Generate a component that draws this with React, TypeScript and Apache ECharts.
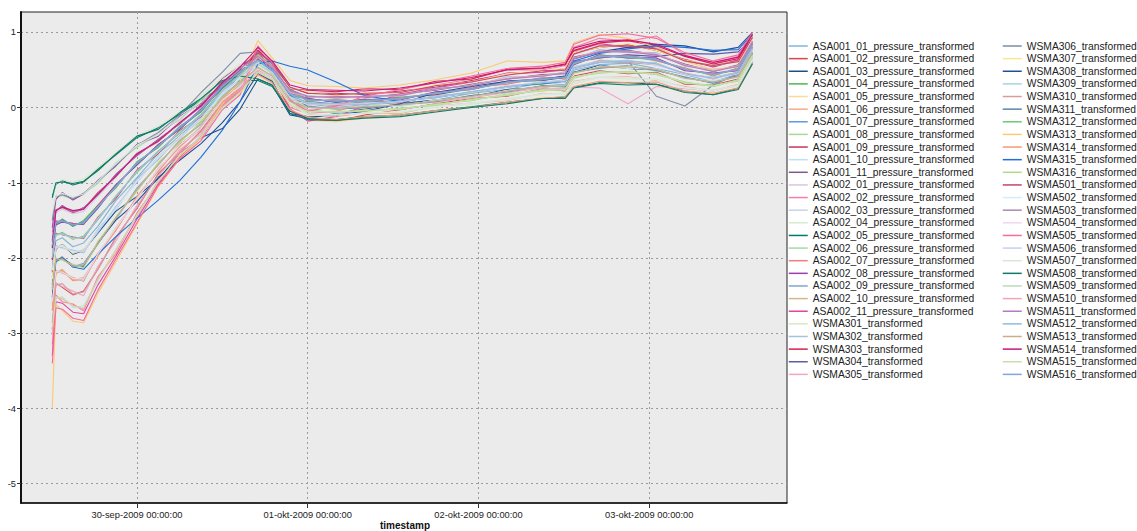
import React, { useEffect, useRef } from "react";
import * as echarts from "echarts";

// hours since 29-sep-2009 00:00:00
const times = [12.1, 12.6, 13.5, 15, 16.5, 18.5, 21, 24, 27, 30, 33, 36, 38.5, 41, 43, 45.5, 48, 52, 56, 61, 66, 71, 76, 81, 84.2, 85.4, 89, 93, 97, 101, 105, 108.5, 110.5];

const xTickValues = [24, 48, 72, 96];
const xTickLabels = ["30-sep-2009 00:00:00", "01-okt-2009 00:00:00", "02-okt-2009 00:00:00", "03-okt-2009 00:00:00"];
const yTickValues = [-5, -4, -3, -2, -1, 0, 1];
const xAxisTitle = "timestamp";

const seriesNames = [
  "ASA001_01_pressure_transformed", "ASA001_02_pressure_transformed", "ASA001_03_pressure_transformed",
  "ASA001_04_pressure_transformed", "ASA001_05_pressure_transformed", "ASA001_06_pressure_transformed",
  "ASA001_07_pressure_transformed", "ASA001_08_pressure_transformed", "ASA001_09_pressure_transformed",
  "ASA001_10_pressure_transformed", "ASA001_11_pressure_transformed", "ASA002_01_pressure_transformed",
  "ASA002_02_pressure_transformed", "ASA002_03_pressure_transformed", "ASA002_04_pressure_transformed",
  "ASA002_05_pressure_transformed", "ASA002_06_pressure_transformed", "ASA002_07_pressure_transformed",
  "ASA002_08_pressure_transformed", "ASA002_09_pressure_transformed", "ASA002_10_pressure_transformed",
  "ASA002_11_pressure_transformed", "WSMA301_transformed", "WSMA302_transformed", "WSMA303_transformed",
  "WSMA304_transformed", "WSMA305_transformed",
  "WSMA306_transformed", "WSMA307_transformed", "WSMA308_transformed", "WSMA309_transformed",
  "WSMA310_transformed", "WSMA311_transformed", "WSMA312_transformed", "WSMA313_transformed",
  "WSMA314_transformed", "WSMA315_transformed", "WSMA316_transformed", "WSMA501_transformed",
  "WSMA502_transformed", "WSMA503_transformed", "WSMA504_transformed", "WSMA505_transformed",
  "WSMA506_transformed", "WSMA507_transformed", "WSMA508_transformed", "WSMA509_transformed",
  "WSMA510_transformed", "WSMA511_transformed", "WSMA512_transformed", "WSMA513_transformed",
  "WSMA514_transformed", "WSMA515_transformed", "WSMA516_transformed",
];

const seriesColors = [
  "#7fb6d9", "#d9454d", "#1a4f8c", "#4db84d", "#fdd89b", "#f7a98b", "#5c9be0", "#a9d98c", "#c7355b",
  "#bfe0f7", "#7a5c8c", "#d9c6e0", "#f77fa6", "#c6d4e8", "#d6edd0", "#007a6b", "#a6d9a6", "#f08080",
  "#9c3fa6", "#7fa6cc", "#d9b38c", "#e0479e", "#d9e8c6", "#a6c1e0", "#d91e4d", "#5c5ca6", "#f0a6c8",
  "#7d8ea6", "#fde68a", "#1f4f99", "#a6d4e8", "#d99aa0", "#5c85a6", "#70c870", "#fdc870", "#f59a72",
  "#1f6fd9", "#b3d98c", "#c4456e", "#d6ecfa", "#a68cb3", "#f0d6ef", "#f76a9a", "#c2d2ef", "#d6e8d6",
  "#0f7a6a", "#b8dbb8", "#f2a6b0", "#b57cc4", "#8fbce0", "#c9ad8c", "#c8177a", "#c8e0a6", "#7fa6e0",
];

const asa001_01 = [-2.17,-1.77,-1.73,-1.85,-1.80,-1.58,-1.24,-0.93,-0.61,-0.38,-0.11,0.19,0.43,0.57,0.47,0.12,0.05,0.00,0.04,0.06,0.10,0.19,0.24,0.33,0.30,0.50,0.57,0.59,0.52,0.44,0.34,0.45,0.78];
const asa001_02 = [-2.95,-2.33,-2.39,-2.49,-2.44,-2.15,-1.73,-1.34,-0.88,-0.60,-0.31,0.06,0.27,0.72,0.44,-0.04,-0.16,-0.18,-0.10,-0.03,0.05,0.12,0.15,0.25,0.22,0.42,0.49,0.45,0.47,0.31,0.30,0.38,0.71];
const asa001_03 = [-2.36,-1.88,-1.82,-1.95,-1.90,-1.67,-1.38,-1.18,-0.95,-0.62,-0.40,-0.28,-0.02,0.38,0.30,-0.10,-0.14,-0.08,-0.02,0.05,0.10,0.14,0.24,0.27,0.30,0.47,0.56,0.52,0.50,0.40,0.33,0.42,0.73];
const asa001_04 = [-1.83,-1.55,-1.48,-1.58,-1.50,-1.30,-1.07,-0.72,-0.53,-0.25,-0.06,0.30,0.47,0.65,0.50,0.17,0.06,0.03,0.07,0.07,0.15,0.19,0.29,0.31,0.37,0.52,0.62,0.60,0.59,0.44,0.40,0.47,0.80];
const asa001_05 = [-3.02,-2.50,-2.55,-2.62,-2.68,-2.27,-1.93,-1.41,-1.00,-0.62,-0.40,0.02,0.19,0.42,0.32,-0.05,-0.17,-0.19,-0.14,-0.10,-0.06,0.01,0.05,0.14,0.12,0.28,0.33,0.34,0.30,0.20,0.19,0.24,0.61];
const asa001_06 = [-2.59,-2.21,-2.16,-2.30,-2.27,-1.98,-1.60,-1.22,-0.81,-0.53,-0.25,0.08,0.31,0.48,0.37,0.04,-0.09,-0.12,-0.07,-0.08,0.02,0.06,0.09,0.19,0.17,0.35,0.40,0.41,0.36,0.28,0.22,0.31,0.62];
const asa001_07 = [-2.16,-1.84,-1.86,-1.90,-1.93,-1.62,-1.36,-0.95,-0.69,-0.37,-0.18,0.21,0.40,0.62,0.49,0.19,0.11,0.08,0.10,0.13,0.18,0.26,0.32,0.39,0.41,0.58,0.69,0.66,0.65,0.50,0.45,0.50,0.84];
const asa001_08 = [-2.42,-2.04,-1.99,-2.12,-2.08,-1.82,-1.46,-1.11,-0.73,-0.47,-0.19,0.12,0.36,0.53,0.41,0.09,-0.04,-0.07,-0.03,-0.03,0.05,0.09,0.18,0.22,0.25,0.39,0.48,0.46,0.46,0.32,0.30,0.35,0.70];
const asa001_09 = [-2.03,-1.51,-1.52,-1.54,-1.55,-1.30,-1.03,-0.76,-0.49,-0.29,-0.02,0.29,0.50,0.76,0.58,0.27,0.19,0.19,0.17,0.22,0.27,0.36,0.45,0.47,0.52,0.73,0.80,0.84,0.76,0.64,0.54,0.63,0.94];
const asa001_10 = [-2.82,-2.54,-2.51,-2.66,-2.63,-2.31,-1.89,-1.45,-0.96,-0.66,-0.37,-0.02,0.22,0.47,0.38,0.06,0.02,-0.02,0.02,0.01,0.10,0.14,0.21,0.29,0.28,0.45,0.55,0.52,0.52,0.38,0.36,0.40,0.73];
const asa001_11 = [-1.76,-1.38,-1.30,-1.40,-1.33,-1.17,-0.89,-0.64,-0.42,-0.22,0.04,0.31,0.54,0.70,0.53,0.24,0.14,0.15,0.13,0.18,0.23,0.31,0.38,0.44,0.45,0.67,0.74,0.76,0.70,0.58,0.48,0.57,0.87];
const asa002_01 = [-1.70,-1.40,-1.35,-1.41,-1.38,-1.18,-0.93,-0.60,-0.46,-0.18,0.00,0.34,0.52,0.68,0.55,0.21,0.09,0.10,0.08,0.13,0.18,0.26,0.32,0.39,0.41,0.58,0.69,0.67,0.65,0.50,0.45,0.52,0.82];
const asa002_02 = [-3.15,-2.49,-2.58,-2.61,-2.70,-2.25,-1.95,-1.40,-1.01,-0.60,-0.41,0.03,0.24,0.80,0.52,0.00,-0.08,-0.05,0.05,0.15,0.30,0.38,0.50,0.50,0.56,0.80,0.92,0.88,0.95,0.70,0.58,0.68,0.98];
const asa002_03 = [-2.52,-2.00,-2.03,-2.08,-2.12,-1.78,-1.50,-1.07,-0.77,-0.43,-0.23,0.16,0.33,0.57,0.45,0.15,0.03,0.06,0.04,0.09,0.13,0.21,0.27,0.34,0.33,0.55,0.60,0.63,0.56,0.46,0.38,0.47,0.77];
const asa002_04 = [-1.99,-1.71,-1.65,-1.76,-1.70,-1.50,-1.17,-0.87,-0.57,-0.35,-0.08,0.21,0.45,0.56,0.47,0.12,0.01,-0.03,0.03,0.02,0.10,0.13,0.23,0.27,0.30,0.44,0.55,0.53,0.50,0.40,0.33,0.42,0.72];
const asa002_05 = [-1.18,-1.02,-0.97,-1.03,-0.99,-0.82,-0.63,-0.40,-0.27,-0.09,0.10,0.28,0.36,0.36,0.28,-0.05,-0.14,-0.16,-0.12,-0.10,-0.04,0.01,0.07,0.12,0.14,0.27,0.33,0.33,0.31,0.22,0.17,0.26,0.60];
const asa002_06 = [-1.50,-1.18,-1.17,-1.22,-1.14,-1.01,-0.74,-0.53,-0.34,-0.16,0.10,0.35,0.55,0.62,0.48,0.13,-0.03,-0.07,-0.05,-0.01,0.03,0.11,0.16,0.24,0.23,0.41,0.46,0.48,0.44,0.34,0.28,0.37,0.68];
const asa002_07 = [-2.69,-2.17,-2.20,-2.26,-2.31,-1.94,-1.64,-1.18,-0.85,-0.49,-0.29,0.11,0.30,0.66,0.48,0.10,0.08,0.11,0.07,0.14,0.17,0.27,0.31,0.40,0.38,0.60,0.66,0.70,0.62,0.53,0.42,0.53,0.81];
const asa002_08 = [-1.60,-1.22,-1.13,-1.23,-1.15,-0.97,-0.78,-0.49,-0.38,-0.12,0.06,0.39,0.55,0.70,0.55,0.20,0.12,0.07,0.11,0.10,0.21,0.24,0.35,0.36,0.42,0.57,0.70,0.66,0.66,0.49,0.46,0.49,0.85];
const asa002_09 = [-2.55,-2.05,-1.98,-2.12,-2.07,-1.81,-1.49,-1.07,-0.76,-0.44,-0.22,0.15,0.35,0.50,0.43,0.07,0.02,-0.02,0.00,0.04,0.07,0.16,0.20,0.29,0.27,0.47,0.52,0.56,0.49,0.41,0.32,0.43,0.72];
const asa002_10 = [-2.62,-2.20,-2.15,-2.29,-2.26,-1.97,-1.63,-1.19,-0.84,-0.50,-0.26,0.10,0.28,0.54,0.41,0.09,0.06,0.02,0.06,0.07,0.16,0.19,0.29,0.32,0.36,0.52,0.63,0.60,0.59,0.44,0.40,0.45,0.79];
const asa002_11 = [-3.30,-2.58,-2.60,-2.72,-2.74,-2.36,-1.98,-1.48,-1.02,-0.66,-0.40,0.01,0.22,0.75,0.48,-0.02,-0.18,-0.12,0.02,0.18,0.26,0.34,0.46,0.47,0.50,0.75,0.85,0.80,0.80,0.62,0.55,0.63,0.95];
const wsma301 = [-1.23,-1.01,-0.96,-0.99,-0.95,-0.80,-0.60,-0.37,-0.25,-0.06,0.16,0.40,0.58,0.52,0.40,0.05,-0.08,-0.11,-0.06,-0.07,0.02,0.04,0.12,0.17,0.20,0.31,0.40,0.38,0.37,0.26,0.24,0.28,0.62];
const wsma302 = [-2.26,-1.88,-1.82,-1.94,-1.89,-1.66,-1.32,-0.99,-0.65,-0.41,-0.14,0.17,0.41,0.61,0.51,0.20,0.16,0.12,0.15,0.15,0.26,0.28,0.41,0.41,0.48,0.64,0.77,0.73,0.73,0.55,0.51,0.54,0.89];
const wsma303 = [-2.19,-1.67,-1.69,-1.72,-1.74,-1.46,-1.21,-0.83,-0.61,-0.31,-0.12,0.25,0.44,0.76,0.58,0.25,0.23,0.21,0.25,0.24,0.35,0.38,0.51,0.52,0.58,0.76,0.86,0.89,0.82,0.68,0.58,0.65,0.96];
const wsma304 = [-1.86,-1.56,-1.52,-1.55,-1.55,-1.34,-1.03,-0.76,-0.50,-0.29,-0.02,0.26,0.46,0.64,0.51,0.16,0.12,0.07,0.10,0.13,0.17,0.25,0.35,0.36,0.40,0.61,0.66,0.70,0.68,0.72,0.71,0.74,0.92];
const wsma305 = [-2.85,-2.33,-2.38,-2.44,-2.50,-2.11,-1.78,-1.30,-0.92,-0.56,-0.35,0.06,0.25,0.50,0.40,0.06,-0.03,0.01,-0.01,0.05,0.07,0.13,0.20,0.26,0.25,0.27,0.26,0.05,0.28,0.25,0.22,0.30,0.66];
const wsma306 = [-1.50,-1.18,-1.16,-1.21,-1.14,-0.98,-0.77,-0.50,-0.33,-0.10,0.20,0.47,0.72,0.74,0.58,0.25,0.08,0.05,0.07,0.09,0.13,0.21,0.27,0.34,0.36,0.52,0.60,0.62,0.15,0.02,0.30,0.45,0.80];
const wsma307 = [-2.28,-1.86,-1.83,-1.93,-1.90,-1.63,-1.35,-0.96,-0.68,-0.38,-0.17,0.20,0.38,0.70,0.54,0.26,0.21,0.16,0.19,0.20,0.30,0.34,0.45,0.49,0.52,0.73,0.80,0.85,0.76,0.63,0.56,0.61,0.92];
const wsma308 = [-2.52,-2.02,-2.00,-2.10,-2.11,-1.80,-1.50,-1.25,-0.93,-0.70,-0.48,-0.20,0.08,0.45,0.35,-0.08,-0.12,-0.10,-0.05,0.05,0.20,0.28,0.35,0.38,0.42,0.65,0.74,0.80,0.84,0.82,0.74,0.80,1.00];
const wsma309 = [-2.58,-2.18,-2.19,-2.27,-2.30,-1.95,-1.61,-1.21,-0.82,-0.52,-0.26,0.08,0.30,0.58,0.45,0.12,0.04,0.05,0.03,0.09,0.13,0.21,0.28,0.34,0.34,0.54,0.62,0.61,0.59,0.45,0.40,0.47,0.77];
const wsma310 = [-2.86,-2.36,-2.34,-2.48,-2.45,-2.15,-1.74,-1.33,-0.89,-0.59,-0.32,0.05,0.23,0.53,0.42,0.08,0.06,0.03,0.06,0.07,0.15,0.20,0.27,0.33,0.35,0.52,0.62,0.60,0.57,0.46,0.38,0.47,0.78];
const wsma311 = [-1.84,-1.54,-1.49,-1.57,-1.52,-1.33,-1.04,-0.75,-0.50,-0.28,-0.05,0.27,0.49,0.63,0.49,0.17,0.01,-0.02,0.00,0.04,0.08,0.16,0.21,0.29,0.28,0.47,0.53,0.55,0.50,0.40,0.33,0.42,0.73];
const wsma312 = [-1.99,-1.69,-1.66,-1.75,-1.71,-1.49,-1.18,-0.86,-0.58,-0.34,-0.09,0.24,0.45,0.70,0.55,0.22,0.09,0.10,0.08,0.13,0.19,0.24,0.34,0.37,0.41,0.58,0.69,0.67,0.63,0.52,0.43,0.52,0.88];
const wsma313 = [-4.00,-2.62,-2.70,-2.84,-2.86,-2.47,-2.06,-1.55,-1.05,-0.68,-0.40,0.05,0.35,0.89,0.66,0.36,0.29,0.28,0.26,0.30,0.37,0.46,0.62,0.60,0.62,0.86,0.97,0.92,0.80,0.62,0.50,0.55,0.95];
const wsma314 = [-2.70,-2.20,-2.17,-2.30,-2.28,-1.97,-1.63,-1.19,-0.84,-0.52,-0.28,0.07,0.26,0.44,0.33,-0.03,-0.13,-0.16,-0.12,-0.10,-0.04,0.00,0.07,0.12,0.15,0.28,0.35,0.33,0.34,0.22,0.19,0.26,0.58];
const wsma315 = [-2.40,-2.05,-2.00,-2.12,-2.15,-1.95,-1.72,-1.47,-1.23,-0.97,-0.66,-0.30,0.08,0.58,0.62,0.55,0.50,0.34,0.16,0.08,0.14,0.20,0.28,0.32,0.35,0.62,0.72,0.78,0.82,0.80,0.76,0.77,0.98];
const wsma316 = [-2.40,-2.00,-2.03,-2.09,-2.13,-1.78,-1.47,-1.10,-0.74,-0.46,-0.20,0.15,0.33,0.51,0.43,0.06,-0.06,-0.05,-0.05,-0.01,0.03,0.11,0.16,0.24,0.23,0.41,0.46,0.48,0.44,0.34,0.28,0.37,0.68];
const wsma501 = [-1.78,-1.36,-1.33,-1.39,-1.35,-1.13,-0.92,-0.61,-0.45,-0.21,0.03,0.34,0.52,0.73,0.60,0.27,0.19,0.17,0.19,0.20,0.29,0.34,0.43,0.49,0.50,0.71,0.82,0.82,0.78,0.62,0.56,0.61,0.93];
const wsma502 = [-2.16,-1.85,-1.85,-1.91,-1.92,-1.63,-1.35,-0.98,-0.66,-0.40,-0.15,0.18,0.40,0.52,0.41,0.07,-0.11,-0.09,-0.08,-0.05,0.01,0.06,0.10,0.18,0.17,0.34,0.40,0.40,0.37,0.26,0.22,0.30,0.64];
const wsma503 = [-1.83,-1.52,-1.51,-1.55,-1.54,-1.31,-1.06,-0.73,-0.52,-0.26,-0.03,0.29,0.47,0.68,0.55,0.22,0.11,0.08,0.10,0.11,0.20,0.24,0.34,0.39,0.40,0.60,0.67,0.69,0.63,0.51,0.45,0.50,0.84];
const wsma504 = [-2.58,-2.18,-2.19,-2.27,-2.28,-1.95,-1.61,-1.21,-0.82,-0.50,-0.28,0.10,0.28,0.52,0.42,0.09,0.05,0.04,0.05,0.08,0.14,0.20,0.29,0.33,0.36,0.53,0.60,0.62,0.57,0.44,0.39,0.45,0.78];
const wsma505 = [-3.40,-2.66,-2.68,-2.80,-2.83,-2.43,-2.02,-1.53,-1.04,-0.68,-0.44,-0.03,0.17,0.82,0.60,0.10,-0.05,0.02,0.15,0.24,0.33,0.42,0.52,0.55,0.60,0.84,0.96,0.98,0.92,0.73,0.62,0.70,1.00];
const wsma506 = [-2.14,-1.84,-1.87,-1.90,-1.92,-1.64,-1.33,-0.96,-0.68,-0.40,-0.15,0.20,0.38,0.59,0.47,0.14,0.06,0.04,0.06,0.08,0.15,0.20,0.27,0.34,0.36,0.52,0.61,0.62,0.58,0.45,0.40,0.46,0.78];
const wsma507 = [-1.40,-1.18,-1.14,-1.19,-1.15,-0.98,-0.75,-0.50,-0.36,-0.13,0.07,0.36,0.56,0.52,0.42,0.06,-0.10,-0.10,-0.08,-0.06,0.00,0.06,0.11,0.18,0.18,0.33,0.41,0.39,0.38,0.27,0.23,0.30,0.64];
const wsma508 = [-1.20,-1.00,-0.99,-1.01,-0.98,-0.84,-0.62,-0.38,-0.29,-0.07,0.12,0.36,0.42,0.38,0.30,-0.08,-0.16,-0.17,-0.14,-0.12,-0.06,0.00,0.05,0.12,0.12,0.26,0.32,0.30,0.31,0.20,0.17,0.24,0.58];
const wsma509 = [-1.98,-1.70,-1.68,-1.74,-1.73,-1.47,-1.19,-0.84,-0.60,-0.32,-0.11,0.23,0.42,0.59,0.46,0.13,0.00,-0.02,0.02,0.03,0.09,0.14,0.22,0.28,0.29,0.46,0.54,0.55,0.51,0.39,0.34,0.41,0.74];
const wsma510 = [-3.02,-2.51,-2.54,-2.63,-2.67,-2.28,-1.90,-1.44,-0.97,-0.65,-0.38,0.01,0.21,0.69,0.54,0.20,0.15,0.14,0.14,0.17,0.24,0.30,0.39,0.43,0.46,0.66,0.75,0.75,0.71,0.57,0.49,0.56,0.88];
const wsma511 = [-1.66,-1.37,-1.31,-1.39,-1.34,-1.16,-0.90,-0.63,-0.43,-0.21,0.01,0.32,0.52,0.68,0.53,0.23,0.15,0.13,0.15,0.16,0.25,0.29,0.38,0.42,0.46,0.65,0.74,0.74,0.70,0.56,0.48,0.55,0.87];
const wsma512 = [-1.99,-1.68,-1.67,-1.73,-1.73,-1.49,-1.19,-0.85,-0.58,-0.34,-0.10,0.22,0.44,0.63,0.50,0.18,0.05,0.05,0.04,0.09,0.14,0.21,0.28,0.33,0.35,0.53,0.60,0.62,0.58,0.45,0.39,0.46,0.78];
const wsma513 = [-2.42,-2.03,-2.01,-2.11,-2.09,-1.81,-1.47,-1.09,-0.76,-0.44,-0.22,0.14,0.34,0.53,0.42,0.08,0.00,-0.01,0.01,0.03,0.09,0.15,0.22,0.28,0.29,0.46,0.54,0.54,0.51,0.39,0.34,0.41,0.74];
const wsma514 = [-1.87,-1.37,-1.32,-1.37,-1.35,-1.15,-0.91,-0.62,-0.44,-0.20,0.02,0.33,0.54,0.80,0.62,0.30,0.24,0.23,0.22,0.26,0.33,0.40,0.50,0.53,0.57,0.79,0.88,0.90,0.84,0.69,0.60,0.67,0.97];
const wsma515 = [-2.92,-2.52,-2.53,-2.64,-2.66,-2.29,-1.91,-1.43,-0.98,-0.64,-0.39,0.00,0.20,0.47,0.38,0.03,-0.05,-0.06,-0.04,-0.02,0.04,0.10,0.17,0.23,0.24,0.40,0.47,0.47,0.45,0.33,0.29,0.36,0.69];
const wsma516 = [-1.83,-1.53,-1.50,-1.56,-1.53,-1.32,-1.05,-0.74,-0.51,-0.27,-0.04,0.28,0.48,0.63,0.50,0.18,0.10,0.09,0.09,0.12,0.19,0.25,0.33,0.38,0.40,0.59,0.68,0.68,0.64,0.51,0.44,0.51,0.83];

const seriesValues = [
  asa001_01, asa001_02, asa001_03, asa001_04, asa001_05, asa001_06, asa001_07, asa001_08, asa001_09,
  asa001_10, asa001_11, asa002_01, asa002_02, asa002_03, asa002_04, asa002_05, asa002_06, asa002_07,
  asa002_08, asa002_09, asa002_10, asa002_11, wsma301, wsma302, wsma303, wsma304, wsma305,
  wsma306, wsma307, wsma308, wsma309, wsma310, wsma311, wsma312, wsma313, wsma314, wsma315, wsma316,
  wsma501, wsma502, wsma503, wsma504, wsma505, wsma506, wsma507, wsma508, wsma509, wsma510, wsma511,
  wsma512, wsma513, wsma514, wsma515, wsma516,
];

const FONT = "'Liberation Sans', Arial, sans-serif";

export default function App() {
  const ref = useRef<HTMLDivElement>(null);

  useEffect(() => {
    if (!ref.current) return;
    const chart = echarts.init(ref.current, undefined, { renderer: "svg" });

    const series = seriesNames.map((name, i) => ({
      name,
      type: "line",
      symbol: "none",
      showSymbol: false,
      data: times.map((t, k) => [t, seriesValues[i][k]]),
      lineStyle: { width: 1.1, color: seriesColors[i] },
      itemStyle: { color: seriesColors[i] },
      emphasis: { disabled: true },
    }));

    const legendBase = {
      orient: "vertical",
      itemWidth: 19,
      itemHeight: 10,
      itemGap: 2.63,
      textStyle: { fontSize: 10.3, color: "#222", fontFamily: FONT },
      itemStyle: { opacity: 0, borderWidth: 0 },
      lineStyle: { width: 1.5 },
      selectedMode: false,
      padding: 0,
    };

    chart.setOption({
      animation: false,
      backgroundColor: "#ffffff",
      grid: {
        left: 21,
        right: 350,
        top: 12,
        bottom: 28,
        show: true,
        backgroundColor: "#ebebeb",
        borderColor: "#222",
        borderWidth: 1,
        outerBoundsMode: "none",
        containLabel: false,
      },
      legend: [
        { ...legendBase, left: 788, top: 41, data: seriesNames.slice(0, 27) },
        { ...legendBase, left: 1002, top: 41, data: seriesNames.slice(27) },
      ],
      graphic: [
        {
          type: "text",
          x: 405,
          y: 525,
          style: {
            text: xAxisTitle,
            fontSize: 10,
            fontWeight: "bold",
            fill: "#111",
            fontFamily: FONT,
            align: "center",
            verticalAlign: "middle",
          },
        },
      ],
      xAxis: {
        type: "value",
        min: 7.7,
        max: 115.36,
        axisLine: { show: true, onZero: false, lineStyle: { color: "#111", width: 1.5 } },
        axisTick: { show: true, length: 5, customValues: xTickValues, lineStyle: { color: "#333" } },
        axisLabel: {
          customValues: xTickValues,
          margin: 7,
          fontSize: 9.3,
          color: "#222",
          fontFamily: FONT,
          formatter: (v: number) => {
            const idx = xTickValues.indexOf(v);
            return idx >= 0 ? xTickLabels[idx] : "";
          },
        },
        splitLine: { show: true, lineStyle: { color: "#9a9a9a", type: [2, 3], width: 1 } },
      },
      yAxis: {
        type: "value",
        min: -5.256,
        max: 1.27,
        axisLine: { show: true, onZero: false, lineStyle: { color: "#111", width: 2 } },
        axisTick: { show: true, length: 4, customValues: yTickValues, lineStyle: { color: "#333" } },
        axisLabel: {
          customValues: yTickValues,
          margin: 5,
          fontSize: 9.3,
          color: "#222",
          fontFamily: FONT,
        },
        splitLine: { show: true, lineStyle: { color: "#9a9a9a", type: [2, 3], width: 1 } },
      },
      series,
    });

    return () => chart.dispose();
  }, []);

  return (
    <div
      ref={ref}
      style={{ position: "fixed", left: 0, top: 0, width: 1137, height: 531, background: "#fff" }}
    />
  );
}
